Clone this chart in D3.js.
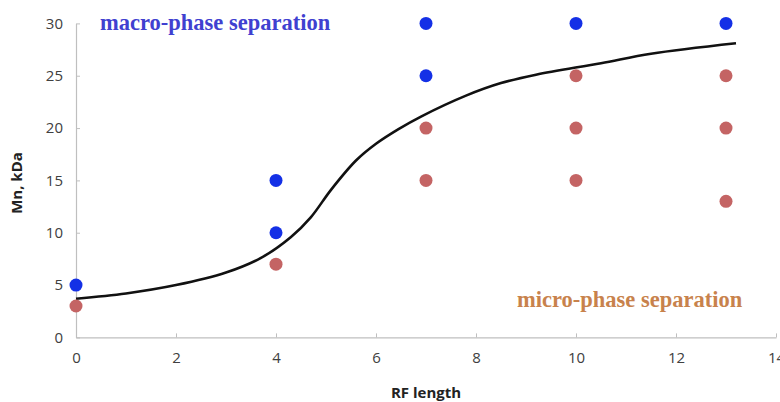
<!DOCTYPE html>
<html>
<head>
<meta charset="utf-8">
<script src="https://cdn.jsdelivr.net/npm/d3@7"></script>
<style>
  body { margin: 0; background: #fff; }
  .axis path, .axis line { stroke: #bfbfbf; }
  .axis text { font-family: "Open Sans", sans-serif; font-size: 15px; fill: #404040; }
</style>
</head>
<body>
<div id="main"></div>
<script>
// blue points (macro-phase separation)
const macroX = [0, 4, 4, 7, 7, 10, 13];
const macroY = [5, 10, 15, 25, 30, 30, 30];
// red points (micro-phase separation)
const microX = [0, 4, 7, 7, 10, 10, 10, 13, 13, 13];
const microY = [3, 7, 15, 20, 15, 20, 25, 13, 20, 25];
// boundary curve
const curveX = [0, 1, 2, 3, 3.7, 4.3, 4.7, 5.1, 5.6, 6.0, 6.45, 6.9, 7.8, 8.5, 9.2, 10.5, 11.5, 13.2];
const curveY = [3.7, 4.2, 5.0, 6.2, 7.6, 9.6, 11.5, 14.1, 16.9, 18.5, 19.9, 21.1, 23.1, 24.3, 25.1, 26.2, 27.1, 28.1];
// tick labels
const xTicks = [0, 2, 4, 6, 8, 10, 12, 14];
const yTicks = [0, 5, 10, 15, 20, 25, 30];

const width = 780;
const height = 402;
const margin = { top: 23.4, right: 4, bottom: 64.6, left: 76 };

const xScale = d3.scaleLinear().domain([0, 14]).range([margin.left, width - margin.right]);
const yScale = d3.scaleLinear().domain([0, 30]).range([height - margin.bottom, margin.top]);

const svg = d3.select('#main')
  .append('svg')
  .attr('width', width)
  .attr('height', height);

// x axis
svg.append('g')
  .classed('axis', true)
  .attr('transform', `translate(0, ${yScale(0)})`)
  .call(d3.axisBottom(xScale).tickValues(xTicks).tickSizeInner(-4).tickSizeOuter(0).tickPadding(15))
  .call(g => g.select('.domain').attr('stroke-width', 1.2));

// y axis
svg.append('g')
  .classed('axis', true)
  .attr('transform', `translate(${xScale(0)}, 0)`)
  .call(d3.axisLeft(yScale).tickValues(yTicks).tickSizeInner(-4).tickSizeOuter(0).tickPadding(13))
  .call(g => g.select('.domain').attr('stroke-width', 1.2));

// boundary line
const line = d3.line()
  .x(d => xScale(d[0]))
  .y(d => yScale(d[1]))
  .curve(d3.curveCatmullRom.alpha(0.5));

svg.append('path')
  .datum(d3.zip(curveX, curveY))
  .attr('d', line)
  .attr('fill', 'none')
  .attr('stroke', '#111')
  .attr('stroke-width', 2.6);

// point groups
svg.append('g')
  .selectAll('circle')
  .data(d3.zip(microX, microY))
  .enter()
  .append('circle')
  .attr('cx', d => xScale(d[0]))
  .attr('cy', d => yScale(d[1]))
  .attr('r', 6.5)
  .style('fill', '#c46464');

svg.append('g')
  .selectAll('circle')
  .data(d3.zip(macroX, macroY))
  .enter()
  .append('circle')
  .attr('cx', d => xScale(d[0]))
  .attr('cy', d => yScale(d[1]))
  .attr('r', 6.5)
  .style('fill', '#1430e6');

// region labels
svg.append('text')
  .attr('x', 100)
  .attr('y', 30)
  .style('font-family', '"Liberation Serif", serif')
  .style('font-weight', 'bold')
  .style('font-size', '22.5px')
  .style('fill', '#4040d0')
  .text('macro-phase separation');

svg.append('text')
  .attr('x', 517)
  .attr('y', 307)
  .style('font-family', '"Liberation Serif", serif')
  .style('font-weight', 'bold')
  .style('font-size', '22.5px')
  .style('fill', '#c8824c')
  .text('micro-phase separation');

// axis titles
svg.append('text')
  .attr('x', (xScale(0) + xScale(14)) / 2)
  .attr('y', 398)
  .style('font-family', '"Open Sans", sans-serif')
  .style('font-weight', 'bold')
  .style('font-size', '15px')
  .style('fill', '#222')
  .style('text-anchor', 'middle')
  .text('RF length');

svg.append('text')
  .attr('transform', 'rotate(-90)')
  .attr('x', -183)
  .attr('y', 22)
  .style('font-family', '"Open Sans", sans-serif')
  .style('font-weight', 'bold')
  .style('font-size', '15px')
  .style('fill', '#222')
  .style('text-anchor', 'middle')
  .text('Mn, kDa');
</script>
</body>
</html>
